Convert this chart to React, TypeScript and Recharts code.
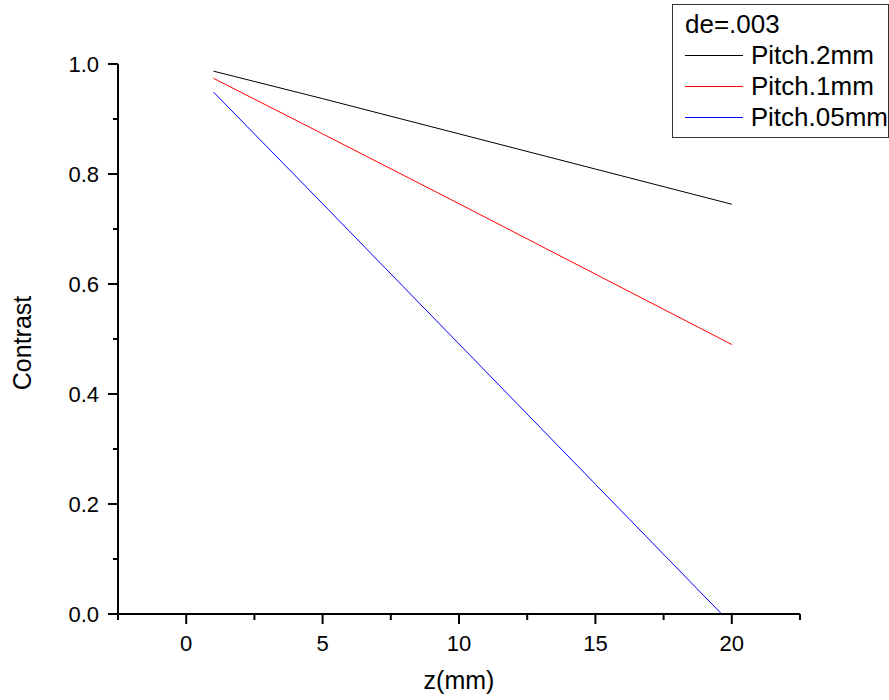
import { LineChart, Line, XAxis, YAxis, Legend, Label } from "recharts";

// z positions (mm) and the contrast
const zValues = [1, 5, 10, 15, 20];
const pitch2mm = [0.987, 0.937, 0.873, 0.809, 0.745];
const pitch1mm = [0.974, 0.873, 0.746, 0.618, 0.49];
const pitch05mm = [0.949, 0.746, 0.491, 0.236, -0.019];

const seriesKeys = ["p2", "p1", "p05"];
const seriesNames = ["Pitch.2mm", "Pitch.1mm", "Pitch.05mm"];
const seriesColors = ["#000000", "#ff0000", "#0000ff"];

const xMajorTicks = [0, 5, 10, 15, 20];
const xMinorTicks = [-2.5, 2.5, 7.5, 12.5, 17.5, 22.5];
const yMajorTicks = [0, 0.2, 0.4, 0.6, 0.8, 1.0];
const yMinorTicks = [0.1, 0.3, 0.5, 0.7, 0.9];

const legendTitle = "de=.003";

const data = zValues.map((z, i) => ({
  z,
  p2: pitch2mm[i],
  p1: pitch1mm[i],
  p05: pitch05mm[i],
}));

const xTicks = [...xMajorTicks, ...xMinorTicks].sort((a, b) => a - b);
const yTicks = [...yMajorTicks, ...yMinorTicks].sort((a, b) => a - b);

const FONT = "'Liberation Sans', Arial, Helvetica, sans-serif";

const XTick = (props: any) => {
  const { x, y, payload } = props;
  const v = payload.value as number;
  const major = xMajorTicks.includes(v);
  return (
    <g>
      <line x1={x} x2={x} y1={y - 10} y2={y - (major ? 0 : 4)} stroke="#000" strokeWidth={2} />
      {major && (
        <text x={x} y={y + 11} dy="0.716em" textAnchor="middle" fontSize={22} fill="#000" fontFamily={FONT}>
          {String(v)}
        </text>
      )}
    </g>
  );
};

const YTick = (props: any) => {
  const { x, y, payload } = props;
  const v = payload.value as number;
  const major = Math.round(v * 10) % 2 === 0;
  return (
    <g>
      <line x1={x + (major ? 0 : 5)} x2={x + 10} y1={y} y2={y} stroke="#000" strokeWidth={2} />
      {major && (
        <text x={x - 9} y={y} dy="0.36em" textAnchor="end" fontSize={22} fill="#000" fontFamily={FONT}>
          {v.toFixed(1)}
        </text>
      )}
    </g>
  );
};

const YTitle = (props: any) => {
  const vb = props.viewBox;
  const cx = vb.x + 22.5;
  const cy = vb.y + vb.height / 2 + 4;
  return (
    <text
      x={cx}
      y={cy}
      dy="0.358em"
      transform={`rotate(-90, ${cx}, ${cy})`}
      textAnchor="middle"
      fontSize={25}
      fill="#000"
      fontFamily={FONT}
    >
      Contrast
    </text>
  );
};

const LegendBox = () => (
  <div
    style={{
      boxSizing: "border-box",
      width: 217,
      border: "1px solid #333",
      background: "#fff",
      padding: "4px 0 4px 12px",
      fontSize: 26,
      lineHeight: "31px",
      color: "#000",
      fontFamily: FONT,
      textAlign: "left",
      whiteSpace: "nowrap",
    }}
  >
    <div>{legendTitle}</div>
    {seriesNames.map((name, i) => (
      <div key={name} style={{ display: "flex", alignItems: "center" }}>
        <span
          style={{ display: "inline-block", width: 58, borderTop: `1px solid ${seriesColors[i]}`, marginRight: 8 }}
        />
        <span>{name}</span>
      </div>
    ))}
  </div>
);

export default function App() {
  return (
    <div style={{ fontFamily: FONT }}>
      <style>{"body{margin:0}"}</style>
      <LineChart width={889} height={700} data={data} margin={{ top: 64, right: 89, bottom: 0, left: 0 }}>
        <XAxis
          dataKey="z"
          type="number"
          domain={[-2.5, 22.5]}
          ticks={xTicks}
          interval={0}
          allowDataOverflow
          height={86}
          tickSize={10}
          tickMargin={0}
          tickLine={false}
          axisLine={{ stroke: "#000", strokeWidth: 2 }}
          tick={<XTick />}
        >
          <Label value="z(mm)" position="insideBottom" offset={11} fontSize={25} fill="#000" fontFamily={FONT} />
        </XAxis>
        <YAxis
          type="number"
          domain={[0, 1]}
          ticks={yTicks}
          interval={0}
          allowDataOverflow
          width={118}
          tickSize={10}
          tickMargin={0}
          tickLine={false}
          axisLine={{ stroke: "#000", strokeWidth: 2 }}
          tick={<YTick />}
        >
          <Label content={<YTitle />} />
        </YAxis>
        <Legend
          layout="vertical"
          align="center"
          verticalAlign="middle"
          content={<LegendBox />}
          wrapperStyle={{ position: "absolute", left: 672, top: 4, width: 217, height: "auto", margin: 0 }}
        />
        {seriesKeys.map((k, i) => (
          <Line
            key={k}
            type="linear"
            dataKey={k}
            name={seriesNames[i]}
            stroke={seriesColors[i]}
            strokeWidth={1}
            dot={false}
            isAnimationActive={false}
          />
        ))}
      </LineChart>
    </div>
  );
}
